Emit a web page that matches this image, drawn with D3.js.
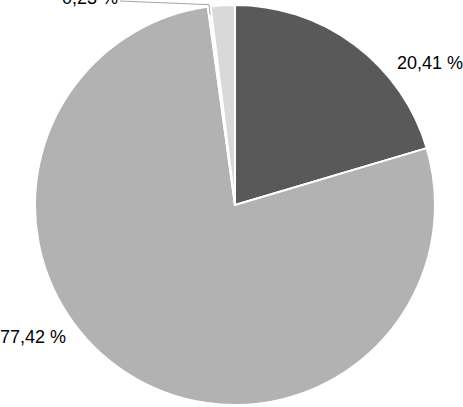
<!DOCTYPE html>
<html>
<head>
<meta charset="utf-8">
<script src="https://cdn.jsdelivr.net/npm/d3@7"></script>
<style>
  body { margin: 0; background: #fff; }
  svg { display: block; }
</style>
</head>
<body>
<div id="chart"></div>
<script>
// data
const categories = ["A", "B", "C", "D"];
const values = [20.41, 77.42, 0.23, 1.94];
const labels = ["20,41 %", "77,42 %", "0,23 %", ""];
const colors = ["#595959", "#b2b2b2", "#f4f4f4", "#d9d9d9"];

const width = 463, height = 407;
const cx = 235, cy = 205, radius = 200;

const svg = d3.select("#chart").append("svg")
    .attr("width", width)
    .attr("height", height);

const g = svg.append("g").attr("transform", `translate(${cx},${cy})`);

const pie = d3.pie().sort(null).value(d => d);
const arcs = pie(values);

const arc = d3.arc().innerRadius(0).outerRadius(radius);

g.selectAll("path")
    .data(arcs)
    .join("path")
    .attr("d", arc)
    .attr("fill", (d, i) => colors[i])
    .attr("stroke", "#fff")
    .attr("stroke-width", 2)
    .attr("stroke-linejoin", "round");

// label placement, relative to the pie centre
const labelPos = [
    { x: 195, y: -142, anchor: "middle" },
    { x: -202, y: 132, anchor: "middle" },
    { x: -117, y: -207, anchor: "end" }
];

labelPos.forEach((p, i) => {
    g.append("text")
        .attr("x", p.x)
        .attr("y", p.y)
        .attr("dy", "0.35em")
        .attr("text-anchor", p.anchor)
        .attr("font-family", "Liberation Sans, Arial, sans-serif")
        .attr("font-size", 18)
        .attr("fill", "#000")
        .text(labels[i]);
});

// leader line for the small slice
const small = arcs[2];
const mid = (small.startAngle + small.endAngle) / 2;
const px = (radius - 8) * Math.sin(mid), py = -(radius - 8) * Math.cos(mid);
const ex = (radius + 2) * Math.sin(mid), ey = -(radius + 2) * Math.cos(mid);
g.append("polyline")
    .attr("points", `${-115},${-204} ${ex},${ey} ${px},${py}`)
    .attr("fill", "none")
    .attr("stroke", "#a6a6a6")
    .attr("stroke-width", 1);
</script>
</body>
</html>
